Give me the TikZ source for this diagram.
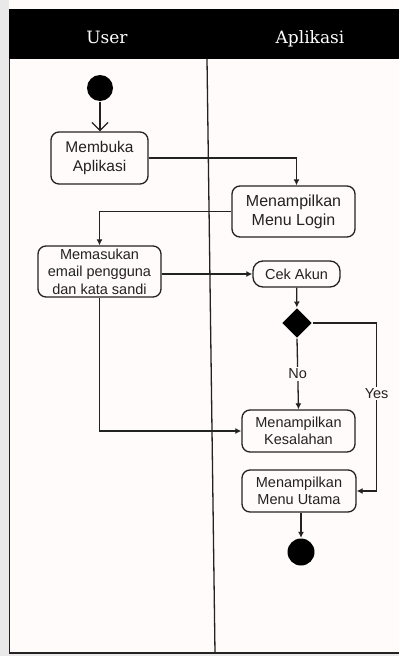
\documentclass[tikz,border=0pt]{standalone}
\usepackage{fontspec}
\setmainfont{Liberation Sans}
\newfontfamily\headfont{DejaVu Serif}
\usetikzlibrary{arrows.meta,shapes.geometric,positioning}
\definecolor{paper}{HTML}{FFFBFA}
\definecolor{strip}{HTML}{E9E9E9}
\definecolor{ink}{HTML}{222222}

\begin{document}
\begin{tikzpicture}[x=1pt,y=-1pt,line width=1.3pt,
  act/.style={draw=ink,rounded corners=8pt,align=center,inner sep=0pt,text=ink,
    font=\fontsize{14.5}{17.5}\selectfont},
  dot/.style={circle,fill=black,inner sep=0pt,minimum size=#1},
  dot/.default=26pt,
  choice/.style={diamond,fill=black,inner sep=0pt,minimum width=30pt,minimum height=30pt},
  flow/.style={draw=ink,-{Latex[length=6pt,width=6pt]}},
  lbl/.style={fill=paper,inner sep=1.5pt,text=ink,font=\fontsize{14.5}{17}\selectfont},
  lane/.style={anchor=base,font=\headfont\fontsize{17}{20}\selectfont,text=white}]
\useasboundingbox (0,0) rectangle (399,656);
\fill[paper] (0,0) rectangle (399,656);
\fill[strip] (0,0) rectangle (9,656);
\fill[strip] (0,653) rectangle (399,656);

% swimlanes
\fill[black] (9,9) rectangle (399,59);
\node[lane] (user) at (107,43) {User};
\node[lane] (app) at (310,43) {Aplikasi};
\draw[ink,line width=1.6pt] (9.5,59) -- (9.5,653) -- (399,653);
\draw[ink] (207,59) -- (215,653);

% activities
\node[dot] (start) at (100,88) {};
\node[act,minimum width=97pt,minimum height=52pt,font=\fontsize{15.5}{19}\selectfont] (open) at (99.5,158) {Membuka\\Aplikasi};
\node[act,minimum width=123pt,minimum height=51pt,font=\fontsize{16}{19}\selectfont] (login) at (293.5,211.5) {Menampilkan\\Menu Login};
\node[act,minimum width=123pt,minimum height=51pt] (input) at (99.5,271.5) {Memasukan\\email pengguna\\dan kata sandi};
\node[act,minimum width=87pt,minimum height=26pt,rounded corners=10pt] (cek) at (296.5,274) {Cek Akun};
\node[choice] (check) at (297,323) {};
\node[act,minimum width=113pt,minimum height=42pt] (salah) at (298.5,431) {Menampilkan\\Kesalahan};
\node[act,minimum width=114pt,minimum height=42pt] (utama) at (299,491) {Menampilkan\\Menu Utama};
\node[dot=27pt] (end) at (301,552) {};

% flows
\draw[ink,-{Straight Barb[length=8pt,width=16pt]}] (start) -- (start |- open.north);
\path[flow] (open.east) -| ([xshift=3pt]login.north);
\path[flow] (login.west) -| (input.north);
\path[flow] (input.east |- cek.west) -- (cek.west);
\path[flow] (cek) -- (check);
\path[flow] (check.south) -- node[lbl] {No} (salah.north);
\path[flow] (check.east) -| node[lbl,pos=0.71] {Yes} ([xshift=20pt]utama.east) -- (utama.east);
\path[flow] (input.south) |- (salah.west);
\path[flow] ([xshift=2pt]utama.south) -- (end);
\end{tikzpicture}
\end{document}
